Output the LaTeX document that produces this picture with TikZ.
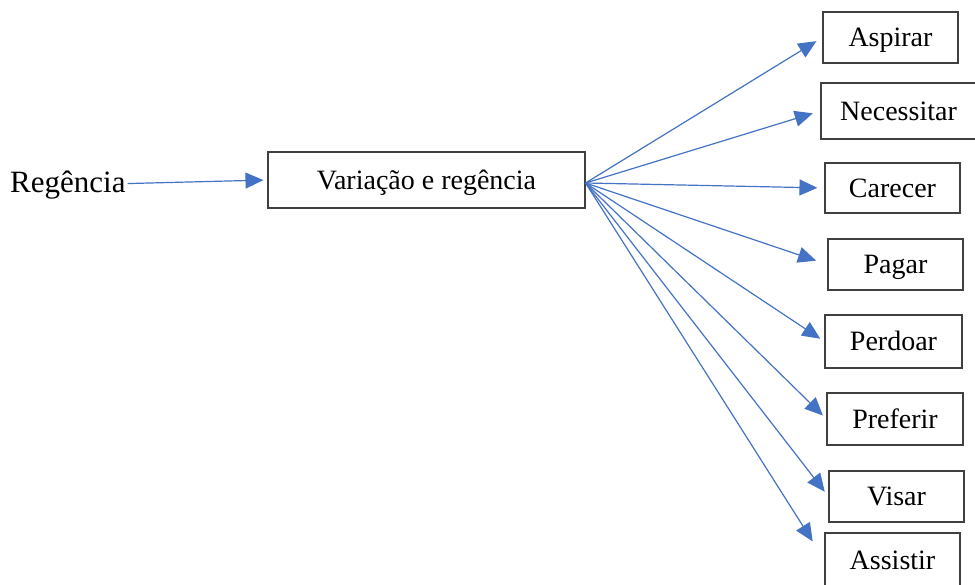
\documentclass[tikz,border=0pt]{standalone}
\usepackage{fontspec}
\newfontfamily\timesfont{Liberation Serif}
\usepackage{tikz}
\usetikzlibrary{arrows.meta}
\definecolor{linkblue}{HTML}{4472C4}

\begin{document}
\begin{tikzpicture}[x=1pt,y=-1pt,
			box/.style={draw=black!75,line width=1.1pt,inner sep=0pt,
				text height=18.5pt,text depth=0pt,
				font=\timesfont\fontsize{28}{32}\selectfont},
			link/.style={-{Triangle[length=18pt,width=16pt]},linkblue,line width=1.2pt},
			]
			\useasboundingbox (0,0) rectangle (975,585);
			
			% 左侧词条
			\node[inner sep=0pt,anchor=base west,font=\timesfont\fontsize{31}{34}\selectfont]
			(R) at (10,193) {Regência};
			
			% 中心方框
			\node[box,minimum width=317,minimum height=56] (V) at (426.5,180) {Variação e regência};
			\coordinate (O) at ([yshift=-3pt]V.east);
			
			% 右侧八个动词
			\foreach \n/\x/\y/\w/\h/\t in {
				asp/890.5/37.5/135/51/Aspirar,
				nec/898.5/111/155/56/Necessitar,
				car/892.5/188/135/50/Carecer,
				pag/895.5/264.5/135/51/Pagar,
				per/893.5/341.5/137/53/Perdoar,
				pre/895/419/136/52/Preferir,
				vis/896.5/496.5/135/51/Visar,
				ass/892.5/560/135/54/Assistir}
			\node[box,minimum width=\w,minimum height=\h] (\n) at (\x,\y) {\t};
			
			% 箭头
			\draw[link,shorten >=4pt] ([xshift=2pt,yshift=2pt]R.east) -- (V.west);
			\foreach \n/\s in {asp/7,nec/8,car/7,pag/12,per/5,pre/5,vis/6,ass/22}
			\draw[link,shorten >=\s pt] (O) -- (\n.west);
		\end{tikzpicture}
\end{document}
